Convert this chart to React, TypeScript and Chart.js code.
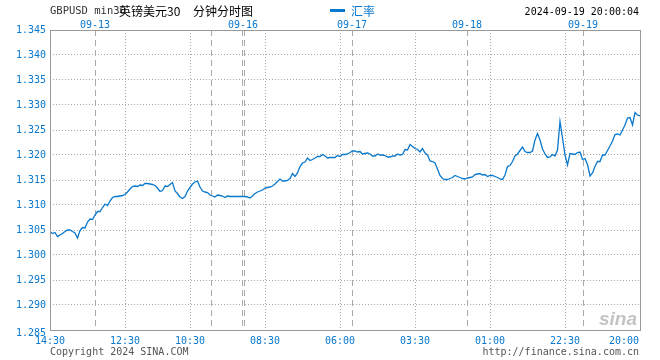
import React, { useEffect, useRef } from "react";
import { Chart, registerables } from "chart.js";

Chart.register(...registerables);

const rateValues: number[] = [
  1.3047, 1.3043, 1.3045, 1.3037, 1.3040, 1.3043, 1.3047, 1.3050, 1.3050, 1.3047,
  1.3044, 1.3034, 1.3049, 1.3055, 1.3054, 1.3066, 1.3072, 1.3071, 1.3080, 1.3087,
  1.3087, 1.3095, 1.3102, 1.3099, 1.3108, 1.3115, 1.3117, 1.3117, 1.3118, 1.3119,
  1.3121, 1.3126, 1.3132, 1.3137, 1.3138, 1.3137, 1.3140, 1.3139, 1.3143, 1.3143,
  1.3142, 1.3141, 1.3139, 1.3134, 1.3127, 1.3129, 1.3138, 1.3137, 1.3141, 1.3145,
  1.3128, 1.3123, 1.3116, 1.3113, 1.3117, 1.3128, 1.3135, 1.3142, 1.3146, 1.3148,
  1.3136, 1.3128, 1.3126, 1.3125, 1.3120, 1.3118, 1.3116, 1.3120, 1.3119, 1.3118,
  1.3115, 1.3118, 1.3117, 1.3117, 1.3117, 1.3117, 1.3117, 1.3117, 1.3117, 1.3116,
  1.3114, 1.3118, 1.3123, 1.3126, 1.3128, 1.3130, 1.3134, 1.3135, 1.3136, 1.3138,
  1.3142, 1.3147, 1.3152, 1.3148, 1.3148, 1.3149, 1.3153, 1.3163, 1.3157, 1.3164,
  1.3177, 1.3184, 1.3186, 1.3194, 1.3189, 1.3191, 1.3194, 1.3197, 1.3197, 1.3201,
  1.3198, 1.3194, 1.3195, 1.3195, 1.3195, 1.3199, 1.3197, 1.3201, 1.3201, 1.3202,
  1.3205, 1.3208, 1.3208, 1.3206, 1.3207, 1.3202, 1.3203, 1.3204, 1.3202, 1.3198,
  1.3198, 1.3202, 1.3200, 1.3200, 1.3199, 1.3196, 1.3196, 1.3198, 1.3198, 1.3202,
  1.3200, 1.3201, 1.3211, 1.3210, 1.3221, 1.3217, 1.3213, 1.3211, 1.3206, 1.3213,
  1.3204, 1.3200, 1.3188, 1.3187, 1.3184, 1.3172, 1.3159, 1.3153, 1.3151, 1.3151,
  1.3153, 1.3155, 1.3159, 1.3157, 1.3155, 1.3153, 1.3152, 1.3154, 1.3155, 1.3156,
  1.3161, 1.3162, 1.3163, 1.3160, 1.3161, 1.3157, 1.3159, 1.3159, 1.3157, 1.3155,
  1.3152, 1.3151, 1.3160, 1.3177, 1.3179, 1.3187, 1.3198, 1.3202, 1.3209, 1.3216,
  1.3207, 1.3205, 1.3205, 1.3208, 1.3230, 1.3243, 1.3230, 1.3212, 1.3202, 1.3195,
  1.3196, 1.3201, 1.3198, 1.3210, 1.3267, 1.3234, 1.3200, 1.3180, 1.3203, 1.3202,
  1.3201, 1.3205, 1.3206, 1.3191, 1.3193, 1.3181, 1.3158, 1.3164, 1.3177, 1.3187,
  1.3187, 1.3200, 1.3200, 1.3209, 1.3218, 1.3228, 1.3241, 1.3242, 1.3240, 1.3250,
  1.3260, 1.3274, 1.3275, 1.3260, 1.3285, 1.3280, 1.3278,
];

const yTickValues: number[] = [
  1.285, 1.29, 1.295, 1.3, 1.305, 1.31, 1.315, 1.32, 1.325, 1.33, 1.335, 1.34, 1.345,
];
const yTickLabels: string[] = [
  "1.285", "1.290", "1.295", "1.300", "1.305", "1.310", "1.315", "1.320", "1.325",
  "1.330", "1.335", "1.340", "1.345",
];

const timeTickIdx: number[] = [0, 30, 56, 86, 116, 146, 176, 206, 236];
const timeTickLabels: string[] = [
  "14:30", "12:30", "10:30", "08:30", "06:00", "03:30", "01:00", "22:30", "20:00",
];

const daySeparatorIdx: number[] = [18, 64.4, 76.8, 77.6, 120.8, 166.8, 213.2];
const dateLabelIdx: number[] = [18, 77.2, 120.8, 166.8, 213.2];
const dateLabels: string[] = ["09-13", "09-16", "09-17", "09-18", "09-19"];

const titleEn = "GBPUSD min30";
const titleCn = "英镑美元30";
const titleCn2 = "分钟分时图";
const legendLabel = "汇率";
const timestampText = "2024-09-19 20:00:04";
const copyrightText = "Copyright 2024 SINA.COM";
const urlText = "http://finance.sina.com.cn";

const BLUE = "#0a78cc";
const MONO = "'DejaVu Sans Mono', 'Liberation Mono', monospace";
const CJK = "'Noto Sans CJK SC', sans-serif";

const decorPlugin = {
  id: "decor",
  beforeDatasetsDraw(chart: any) {
    const { ctx, chartArea, scales } = chart;
    const xs = scales.x;
    ctx.save();
    ctx.strokeStyle = "#aaaaaa";
    ctx.lineWidth = 1;
    ctx.setLineDash([6, 4]);
    daySeparatorIdx.forEach((d) => {
      const px = Math.round(xs.getPixelForValue(d)) + 0.5;
      ctx.beginPath();
      ctx.moveTo(px, chartArea.top);
      ctx.lineTo(px, chartArea.bottom);
      ctx.stroke();
    });
    ctx.restore();
  },
  afterDraw(chart: any) {
    const { ctx, chartArea, scales } = chart;
    const xs = scales.x;
    const ys = scales.y;
    ctx.save();
    // frame
    ctx.strokeStyle = "#999999";
    ctx.lineWidth = 1;
    ctx.setLineDash([]);
    ctx.strokeRect(
      Math.round(chartArea.left) + 0.5,
      Math.round(chartArea.top) + 0.5,
      Math.round(chartArea.right - chartArea.left),
      Math.round(chartArea.bottom - chartArea.top)
    );

    // y labels
    ctx.fillStyle = BLUE;
    ctx.font = `10px ${MONO}`;
    ctx.textAlign = "right";
    ctx.textBaseline = "middle";
    yTickValues.forEach((v, i) => {
      let py = ys.getPixelForValue(v);
      if (i === 0) py += 3.5;
      ctx.fillText(yTickLabels[i], chartArea.left - 4, py);
    });

    // x labels
    ctx.textBaseline = "middle";
    timeTickIdx.forEach((t, i) => {
      const px = xs.getPixelForValue(t);
      if (i === timeTickIdx.length - 1) {
        ctx.textAlign = "right";
        ctx.fillText(timeTickLabels[i], px - 1, chartArea.bottom + 11.5);
      } else {
        ctx.textAlign = "center";
        ctx.fillText(timeTickLabels[i], px, chartArea.bottom + 11.5);
      }
    });

    // date labels
    ctx.textAlign = "center";
    dateLabelIdx.forEach((d, i) => {
      ctx.fillText(dateLabels[i], xs.getPixelForValue(d), chartArea.top - 5);
    });

    // title
    ctx.textAlign = "left";
    ctx.fillStyle = "#333333";
    ctx.font = `10.5px ${MONO}`;
    ctx.fillText(titleEn, 50, 11);
    ctx.fillStyle = "#000000";
    ctx.font = `12px ${CJK}`;
    ctx.fillText(titleCn, 119, 11);
    ctx.fillText(titleCn2, 193, 11);

    // legend
    ctx.fillStyle = BLUE;
    ctx.fillRect(330, 9, 15, 3);
    ctx.font = `12px ${CJK}`;
    ctx.fillText(legendLabel, 351, 11);

    // timestamp
    ctx.textAlign = "right";
    ctx.fillStyle = "#000000";
    ctx.font = `10px ${MONO}`;
    ctx.fillText(timestampText, 639, 12);

    // footer
    ctx.fillStyle = "#555555";
    ctx.textAlign = "left";
    ctx.fillText(copyrightText, 50, 352);
    ctx.textAlign = "right";
    ctx.fillText(urlText, 639, 352);

    // watermark
    ctx.fillStyle = "rgba(170,170,170,0.7)";
    ctx.font = `italic bold 19px 'Liberation Sans', sans-serif`;
    ctx.textAlign = "right";
    ctx.textBaseline = "alphabetic";
    ctx.fillText("sina", 637, 325);
    ctx.restore();
  },
};

export default function App() {
  const canvasRef = useRef<HTMLCanvasElement | null>(null);

  useEffect(() => {
    document.body.style.margin = "0";
    const canvas = canvasRef.current;
    if (!canvas) return;
    const points = rateValues.map((v, i) => ({ x: i, y: v }));
    const chart = new Chart(canvas, {
      type: "line",
      data: {
        datasets: [
          {
            label: legendLabel,
            data: points,
            borderColor: "#0a78cc",
            borderWidth: 1.3,
            pointRadius: 0,
            tension: 0,
            fill: false,
          },
        ],
      },
      options: {
        responsive: false,
        animation: false,
        layout: { padding: { top: 30, right: 20, left: 0, bottom: 0 } },
        plugins: { legend: { display: false }, tooltip: { enabled: false } },
        scales: {
          x: {
            type: "linear",
            min: 0,
            max: rateValues.length - 1,
            afterBuildTicks: (scale: any) => {
              scale.ticks = timeTickIdx.map((v) => ({ value: v }));
            },
            afterFit: (scale: any) => {
              scale.height = 30;
            },
            ticks: { display: false },
            grid: { color: "#aaaaaa", lineWidth: 1, drawTicks: false },
            border: { display: false, dash: [1, 2] },
          },
          y: {
            min: 1.285,
            max: 1.345,
            afterBuildTicks: (scale: any) => {
              scale.ticks = yTickValues.map((v) => ({ value: v }));
            },
            afterFit: (scale: any) => {
              scale.width = 50;
            },
            ticks: { display: false },
            grid: { color: "#aaaaaa", lineWidth: 1, drawTicks: false },
            border: { display: false, dash: [1, 2] },
          },
        },
      },
      plugins: [decorPlugin],
    });
    return () => chart.destroy();
  }, []);

  return (
    <div style={{ position: "fixed", left: 0, top: 0, width: 660, height: 360, background: "#fff" }}>
      <canvas ref={canvasRef} width={660} height={360} />
    </div>
  );
}
